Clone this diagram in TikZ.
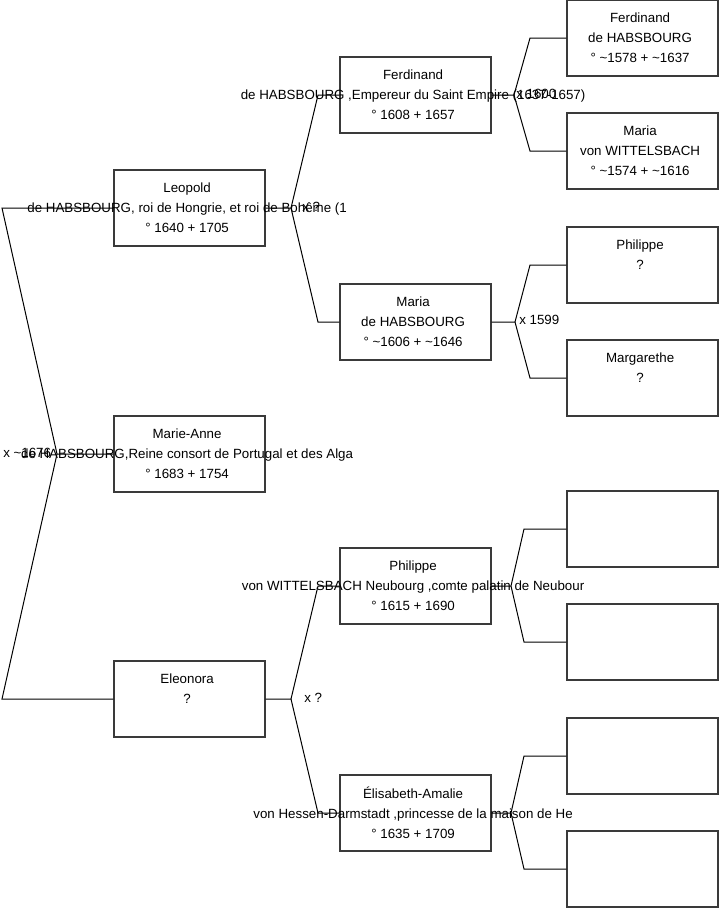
\documentclass[tikz,border=0pt]{standalone}
\usepackage{fontspec}
\setmainfont{Liberation Sans}
\usepackage{xcolor}
\definecolor{traitGris}{HTML}{3A3A3A}

\begin{document}
\begin{tikzpicture}[x=0.75pt,y=-0.75pt,
  boite/.style={draw=traitGris,line width=0.8pt,minimum width=113.25pt,minimum height=57pt,inner sep=0pt},
  texte/.style={align=center,font=\fontsize{10}{15}\selectfont,inner sep=0pt,xshift=-1.8pt},
  lien/.style={draw=black,line width=0.75pt},
  mariage/.style={anchor=west,font=\fontsize{10}{12}\selectfont,inner sep=0pt}]
  \useasboundingbox (0,0) rectangle (719,908);

  % generation 1
  \node[boite] (leo) at (189.5,208) {};
  \node[boite] (ma) at (189.5,454) {};
  \node[boite] (ele) at (189.5,699) {};
  % generation 2
  \node[boite] (fe) at (415.5,95) {};
  \node[boite] (mar) at (415.5,322) {};
  \node[boite] (phi) at (415.5,586) {};
  \node[boite] (eli) at (415.5,813) {};
  % generation 3
  \node[boite] (fe2) at (642.5,38) {};
  \node[boite] (mar2) at (642.5,151) {};
  \node[boite] (phi2) at (642.5,265) {};
  \node[boite] (marg) at (642.5,378) {};
  \node[boite] (v1) at (642.5,529) {};
  \node[boite] (v2) at (642.5,642) {};
  \node[boite] (v3) at (642.5,756) {};
  \node[boite] (v4) at (642.5,869) {};

  % fourches
  \coordinate (f0) at (57,454);
  \coordinate (f0h) at (2,208);
  \coordinate (f0b) at (2,699);
  \draw[lien] (ma.west) -- (f0) -- (f0h) -- (leo.west);
  \draw[lien] (f0) -- (f0b) -- (ele.west);

  \coordinate (f1) at (291,208);
  \coordinate (f1h) at (318,95);
  \coordinate (f1b) at (318,322);
  \draw[lien] (leo.east) -- (f1) -- (f1h) -- (fe.west);
  \draw[lien] (f1) -- (f1b) -- (mar.west);

  \coordinate (f2) at (291,699);
  \coordinate (f2h) at (318,586);
  \coordinate (f2b) at (318,813);
  \draw[lien] (ele.east) -- (f2) -- (f2h) -- (phi.west);
  \draw[lien] (f2) -- (f2b) -- (eli.west);

  \coordinate (f3) at (514,95);
  \coordinate (f3h) at (530,38);
  \coordinate (f3b) at (530,151);
  \draw[lien] (fe.east) -- (f3) -- (f3h) -- (fe2.west);
  \draw[lien] (f3) -- (f3b) -- (mar2.west);

  \coordinate (f4) at (515,322);
  \coordinate (f4h) at (530,265);
  \coordinate (f4b) at (530,378);
  \draw[lien] (mar.east) -- (f4) -- (f4h) -- (phi2.west);
  \draw[lien] (f4) -- (f4b) -- (marg.west);

  \coordinate (f5) at (511,586);
  \coordinate (f5h) at (524,529);
  \coordinate (f5b) at (524,642);
  \draw[lien] (phi.east) -- (f5) -- (f5h) -- (v1.west);
  \draw[lien] (f5) -- (f5b) -- (v2.west);

  \coordinate (f6) at (511,813);
  \coordinate (f6h) at (524,756);
  \coordinate (f6b) at (524,869);
  \draw[lien] (eli.east) -- (f6) -- (f6h) -- (v3.west);
  \draw[lien] (f6) -- (f6b) -- (v4.west);

  % textes
  \node[texte] (leot) at (leo) {Leopold\\de HABSBOURG, roi de Hongrie, et roi de Bohême (1\\° 1640 + 1705};
  \node[texte] (mat) at (ma) {Marie-Anne\\de HABSBOURG,Reine consort de Portugal et des Alga\\° 1683 + 1754};
  \node[texte] (elet) at (ele) {Eleonora\\?\\~};
  \node[texte] (fet) at (fe) {Ferdinand\\de HABSBOURG ,Empereur du Saint Empire (1637-1657)\\° 1608 + 1657};
  \node[texte] (mart) at (mar) {Maria\\de HABSBOURG\\° \textasciitilde1606 + \textasciitilde1646};
  \node[texte] (phit) at (phi) {Philippe\\von WITTELSBACH Neubourg ,comte palatin de Neubour\\° 1615 + 1690};
  \node[texte] (elit) at (eli) {Élisabeth-Amalie\\von Hessen-Darmstadt ,princesse de la maison de He\\° 1635 + 1709};
  \node[texte] (fe2t) at (fe2) {Ferdinand\\de HABSBOURG\\° \textasciitilde1578 + \textasciitilde1637};
  \node[texte] (mar2t) at (mar2) {Maria\\von WITTELSBACH\\° \textasciitilde1574 + \textasciitilde1616};
  \node[texte] (phi2t) at (phi2) {Philippe\\?\\~};
  \node[texte] (margt) at (marg) {Margarethe\\?\\~};

  % mariages
  \node[mariage] (m0) at (3,453) {x \textasciitilde1676};
  \node[mariage] (m1) at (302,207) {x ?};
  \node[mariage] (m2) at (516,94) {x 1600};
  \node[mariage] (m3) at (519,320) {x 1599};
  \node[mariage] (m4) at (304,698) {x ?};
\end{tikzpicture}
\end{document}
